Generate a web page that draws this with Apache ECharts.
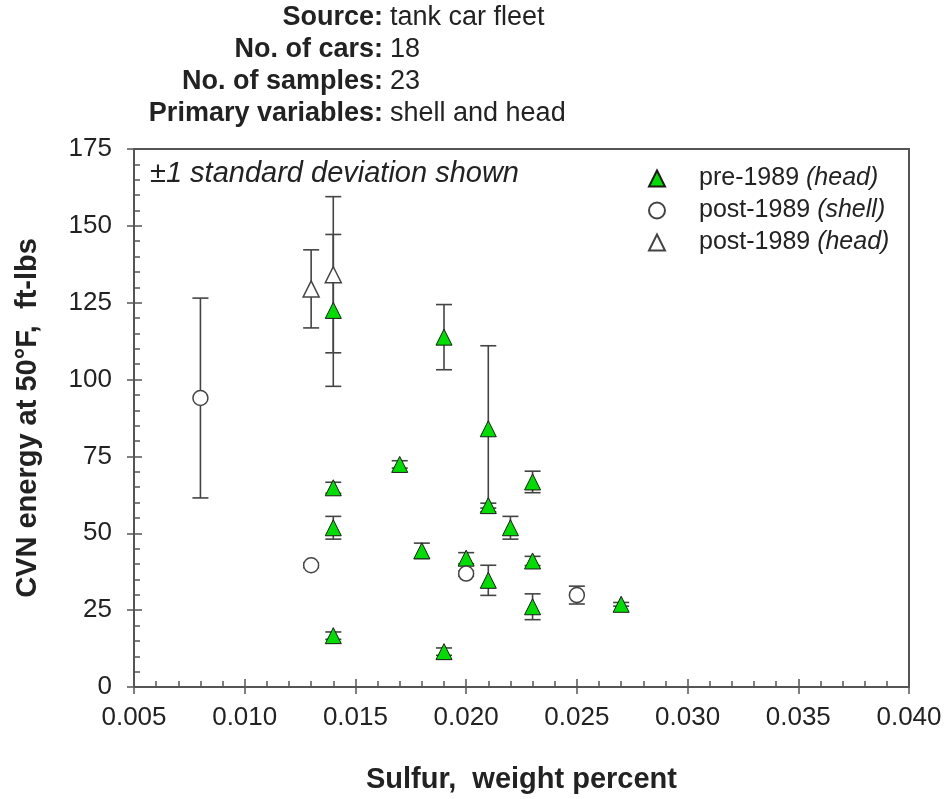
<!DOCTYPE html>
<html>
<head>
<meta charset="utf-8">
<script src="https://cdn.jsdelivr.net/npm/echarts@6/dist/echarts.min.js"></script>
<style>
  html, body { margin: 0; padding: 0; background: #fff; }
  #chart { width: 948px; height: 799px; }
</style>
</head>
<body>
<div id="chart"></div>
<script>
// CVN impact energy vs. sulfur content, tank car fleet samples (mean ± 1 s.d.)
const headerLabels = ['Source:', 'No. of cars:', 'No. of samples:', 'Primary variables:'];
const headerValues = ['tank car fleet', '18', '23', 'shell and head'];

const seriesNames = ['pre-1989 (head)', 'post-1989 (shell)', 'post-1989 (head)'];

// pre-1989 head samples
const preHeadX    = [0.014, 0.014, 0.014, 0.014, 0.017, 0.018, 0.019, 0.019, 0.020, 0.021, 0.021, 0.021, 0.022, 0.023, 0.023, 0.023, 0.027];
const preHeadMean = [122.5, 64.8, 51.8, 16.7, 72.4, 44.3, 113.8, 11.5, 41.9, 84.0, 59.0, 34.7, 51.8, 66.7, 41.0, 26.1, 26.9];
const preHeadSd   = [24.7, 1.8, 3.7, 1.2, 1.2, 2.5, 10.6, 1.2, 1.8, 27.0, 0.8, 4.9, 3.7, 3.5, 1.5, 4.2, 0.6];

// post-1989 shell samples
const postShellX    = [0.008, 0.013, 0.020, 0.025];
const postShellMean = [94.0, 39.6, 36.9, 29.9];
const postShellSd   = [32.5, 0.8, 0.8, 2.9];

// post-1989 head samples
const postHeadX    = [0.013, 0.014];
const postHeadMean = [129.5, 134.1];
const postHeadSd   = [12.7, 25.4];

const xTicks = { min: 0.005, max: 0.040, step: 0.005 };
const yTicks = { min: 0, max: 175, step: 25 };

const FONT = 'Liberation Sans, Arial, Helvetica, sans-serif';
const INK = '#222';
const AXIS = '#555';

function points(xs, ys) { return xs.map((x, i) => [x, ys[i]]); }
function bars(xs, ys, sds) { return xs.map((x, i) => [x, ys[i] - sds[i], ys[i] + sds[i]]); }

const errorData = []
  .concat(bars(preHeadX, preHeadMean, preHeadSd))
  .concat(bars(postShellX, postShellMean, postShellSd))
  .concat(bars(postHeadX, postHeadMean, postHeadSd));

const chart = echarts.init(document.getElementById('chart'), null, { renderer: 'canvas' });

const headerGraphics = [];
headerLabels.forEach((lab, i) => {
  const y = 18 + i * 32;
  headerGraphics.push({
    type: 'text', x: 383, y: y,
    style: { text: lab, align: 'right', verticalAlign: 'middle', fontFamily: FONT, fontSize: 27, fontWeight: 'bold', fill: INK }
  });
  headerGraphics.push({
    type: 'text', x: 390, y: y,
    style: { text: headerValues[i], align: 'left', verticalAlign: 'middle', fontFamily: FONT, fontSize: 27, fill: INK }
  });
});
headerGraphics.push({
  type: 'text', x: 150, y: 174,
  style: { text: '±1 standard deviation shown', align: 'left', verticalAlign: 'middle', fontFamily: FONT, fontSize: 29, fontStyle: 'italic', fill: INK }
});

function axisPair(kind, t, extra) {
  const main = Object.assign({
    type: 'value', min: t.min, max: t.max, interval: t.step,
    axisLine: { show: true, onZero: false, lineStyle: { color: AXIS, width: 2 } },
    axisTick: { show: true, inside: true, length: 8, lineStyle: { color: AXIS, width: 1.5 } },
    minorTick: { show: true, splitNumber: 5, length: 6, lineStyle: { color: AXIS, width: 1.5 } },
    splitLine: { show: false },
    axisLabel: { fontFamily: FONT, fontSize: 26, color: INK }
  }, extra);
  const outer = {
    type: 'value', min: t.min, max: t.max, interval: t.step,
    position: kind === 'x' ? 'bottom' : 'left',
    axisLine: { show: false },
    axisTick: { show: true, inside: false, length: 7, lineStyle: { color: AXIS, width: 1.5 } },
    axisLabel: { show: false },
    splitLine: { show: false }
  };
  return [main, outer];
}

const option = {
  backgroundColor: '#fff',
  animation: false,
  grid: { left: 134, right: 39, top: 149, bottom: 111, show: true, borderColor: AXIS, borderWidth: 2, backgroundColor: 'transparent' },
  graphic: headerGraphics,
  legend: {
    orient: 'vertical', left: 643, top: 161, itemGap: 7,
    itemWidth: 16, itemHeight: 16,
    data: seriesNames,
    formatter: name => name.replace(/^(\S+) (\(.*\))$/, '{g|}{n|$1} {i|$2}'),
    textStyle: {
      fontFamily: FONT, fontSize: 25, color: INK,
      rich: {
        g: { width: 29 },
        n: { fontFamily: FONT, fontSize: 25, color: INK },
        i: { fontFamily: FONT, fontSize: 25, color: INK, fontStyle: 'italic' }
      }
    }
  },
  xAxis: axisPair('x', xTicks, {
    position: 'bottom',
    name: 'Sulfur,  weight percent', nameLocation: 'middle', nameGap: 78,
    nameTextStyle: { fontFamily: FONT, fontSize: 29, fontWeight: 'bold', color: INK },
    axisLabel: { fontFamily: FONT, fontSize: 26, color: INK, margin: 18, formatter: v => v.toFixed(3) }
  }),
  yAxis: axisPair('y', yTicks, {
    position: 'left',
    name: 'CVN energy at 50°F,  ft-lbs', nameLocation: 'middle', nameGap: 92,
    nameTextStyle: { fontFamily: FONT, fontSize: 29, fontWeight: 'bold', color: INK },
    axisLabel: { fontFamily: FONT, fontSize: 26, color: INK, margin: 22 }
  }),
  series: [
    {
      type: 'custom', name: 'sd', z: 1, silent: true,
      data: errorData,
      encode: { x: 0, y: [1, 2] },
      renderItem: (params, api) => {
        const x = api.value(0);
        const lo = api.coord([x, api.value(1)]);
        const hi = api.coord([x, api.value(2)]);
        const half = 8;
        const style = { stroke: '#444', lineWidth: 1.6, fill: null };
        return {
          type: 'group',
          children: [
            { type: 'line', shape: { x1: lo[0], y1: lo[1], x2: hi[0], y2: hi[1] }, style },
            { type: 'line', shape: { x1: hi[0] - half, y1: hi[1], x2: hi[0] + half, y2: hi[1] }, style },
            { type: 'line', shape: { x1: lo[0] - half, y1: lo[1], x2: lo[0] + half, y2: lo[1] }, style }
          ]
        };
      }
    },
    {
      type: 'scatter', name: seriesNames[0], z: 3,
      symbol: 'triangle', symbolSize: 16,
      itemStyle: { color: '#00dd00', borderColor: '#1a1a1a', borderWidth: 1, opacity: 1 },
      data: points(preHeadX, preHeadMean)
    },
    {
      type: 'scatter', name: seriesNames[1], z: 3,
      symbol: 'circle', symbolSize: 15,
      itemStyle: { color: '#fff', borderColor: '#444', borderWidth: 1.5, opacity: 1 },
      data: points(postShellX, postShellMean)
    },
    {
      type: 'scatter', name: seriesNames[2], z: 3,
      symbol: 'triangle', symbolSize: 16,
      itemStyle: { color: '#fff', borderColor: '#444', borderWidth: 1.5, opacity: 1 },
      data: points(postHeadX, postHeadMean)
    }
  ]
};

chart.setOption(option);
</script>
</body>
</html>
